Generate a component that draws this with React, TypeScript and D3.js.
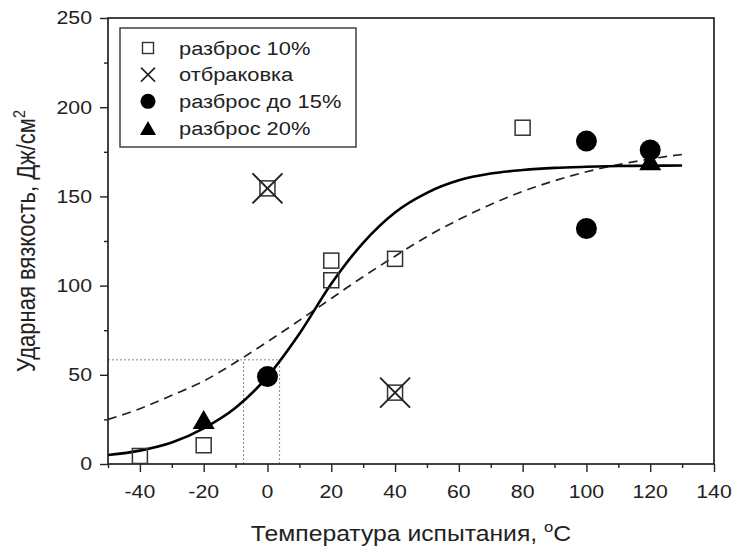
import React, { useEffect, useRef } from 'react';
import * as d3 from 'd3';

const W = 737;
const H = 551;
const FONT = '"Liberation Sans", Arial, sans-serif';
const SX = 1.15; // the lettering in the picture is a little wide

// measured points (temperature, impact strength)
const squareT = [-40, -20, 0, 20, 20, 40, 40, 80];
const squareV = [4.5, 10.5, 154.5, 103, 114, 115, 40, 188.5];
const rejectT = [0, 40];
const rejectV = [154.5, 40];
const circleT = [0, 100, 100, 120];
const circleV = [49, 181, 132, 176];
const triangleT = [-20, 120];
const triangleV = [25, 170];

// fit curves, every 10 °C
const curveT = [-50, -40, -30, -20, -10, 0, 10, 20, 30, 40, 50, 60, 70, 80, 90, 100, 110, 120, 130];
const solidV = [5, 7.5, 12, 20, 31.5, 49, 73, 101, 124, 141, 152, 159, 162.8, 164.8, 166, 166.6, 167, 167.2, 167.3];
const dashedV = [25, 31, 38.5, 46.5, 57, 68.5, 80.5, 92.8, 105, 116.5, 127.5, 137, 145.5, 152.8, 158.8, 163.8, 167.8, 171, 173.5];

// dotted guide lines
const guideV = 58.4;
const guideT = [-7.5, 3.8];

const xTicks = [-40, -20, 0, 20, 40, 60, 80, 100, 120, 140];
const xMinor = [-50, -30, -10, 10, 30, 50, 70, 90, 110, 130];
const yTicks = [0, 50, 100, 150, 200, 250];
const yMinor = [25, 75, 125, 175, 225];

const legendLabels = ['разброс 10%', 'отбраковка', 'разброс до 15%', 'разброс 20%'];

export default function App() {
  const ref = useRef<SVGSVGElement>(null);

  useEffect(() => {
    const svg = d3.select(ref.current);
    svg.selectAll('*').remove();

    const x = d3.scaleLinear().domain([-50, 140]).range([108, 714]);
    const y = d3.scaleLinear().domain([0, 250]).range([464, 18]);
    const ink = '#222';

    // dotted guides
    const g0 = svg.append('g').attr('stroke', '#888').attr('stroke-width', 1).attr('stroke-dasharray', '2,2');
    g0.append('line')
      .attr('x1', x(-50)).attr('x2', x(guideT[1]))
      .attr('y1', y(guideV)).attr('y2', y(guideV));
    g0.selectAll('line.v').data(guideT).enter().append('line')
      .attr('class', 'v')
      .attr('x1', (d) => x(d)).attr('x2', (d) => x(d))
      .attr('y1', y(0)).attr('y2', y(guideV));

    // fit curves
    const line = d3.line<number>()
      .x((d, i) => x(curveT[i]))
      .y((d) => y(d))
      .curve(d3.curveMonotoneX);
    svg.append('path').attr('d', line(dashedV))
      .attr('fill', 'none').attr('stroke', ink).attr('stroke-width', 1.7).attr('stroke-dasharray', '9,6');
    svg.append('path').attr('d', line(solidV))
      .attr('fill', 'none').attr('stroke', '#000').attr('stroke-width', 2.6);

    // axes
    const xAxis = svg.append('g').attr('transform', `translate(0,${y(0)})`);
    xAxis.call(d3.axisBottom(x).tickValues(xTicks).tickSize(8).tickFormat(() => ''));
    xAxis.append('g').call(d3.axisBottom(x).tickValues(xMinor).tickSize(4).tickFormat(() => ''));
    xAxis.selectAll('path').remove();
    const yAxis = svg.append('g').attr('transform', `translate(${x(-50)},0)`);
    yAxis.call(d3.axisLeft(y).tickValues(yTicks).tickSize(8).tickFormat(() => ''));
    yAxis.append('g').call(d3.axisLeft(y).tickValues(yMinor).tickSize(4).tickFormat(() => ''));
    yAxis.selectAll('path').remove();
    svg.selectAll('.tick line').attr('stroke', ink).attr('stroke-width', 1.4);

    // frame
    svg.append('rect')
      .attr('x', x(-50)).attr('y', y(250))
      .attr('width', x(140) - x(-50)).attr('height', y(0) - y(250))
      .attr('fill', 'none').attr('stroke', ink).attr('stroke-width', 1.7);

    // tick labels
    svg.append('g').selectAll('text').data(xTicks).enter().append('text')
      .attr('transform', (d) => `translate(${x(d)},498) scale(${SX},1)`)
      .attr('text-anchor', 'middle')
      .style('font-family', FONT).attr('font-size', 18.5).attr('fill', ink)
      .text((d) => d);
    svg.append('g').selectAll('text').data(yTicks).enter().append('text')
      .attr('transform', (d) => `translate(92,${y(d)}) scale(${SX},1)`)
      .attr('dy', '0.35em')
      .attr('text-anchor', 'end')
      .style('font-family', FONT).attr('font-size', 18.5).attr('fill', ink)
      .text((d) => d);

    // axis titles
    const xt = svg.append('text')
      .attr('transform', `translate(${(x(-50) + x(140)) / 2},541) scale(${SX},1)`)
      .attr('text-anchor', 'middle')
      .style('font-family', FONT).attr('font-size', 21.5).attr('fill', ink);
    xt.append('tspan').text('Температура испытания, ');
    xt.append('tspan').attr('font-size', 14.5).attr('dy', -9).text('o');
    xt.append('tspan').attr('dy', 9).text('C');

    const yt = svg.append('text')
      .attr('transform', `translate(35,${(y(0) + y(250)) / 2}) scale(${SX},1) rotate(-90)`)
      .attr('text-anchor', 'middle')
      .style('font-family', FONT).attr('font-size', 22).attr('fill', ink);
    yt.append('tspan').text('Ударная вязкость, Дж/см');
    yt.append('tspan').attr('font-size', 14.5).attr('dy', -9).text('2');

    // markers
    const sq = 15;
    svg.append('g').selectAll('rect').data(squareT).enter().append('rect')
      .attr('x', (d) => x(d) - sq / 2)
      .attr('y', (d, i) => y(squareV[i]) - sq / 2)
      .attr('width', sq).attr('height', sq)
      .attr('fill', 'none').attr('stroke', '#333').attr('stroke-width', 1.5);

    const xs = 15;
    const rej = svg.append('g').attr('stroke', ink).attr('stroke-width', 2);
    rejectT.forEach((t, i) => {
      const cx = x(t);
      const cy = y(rejectV[i]);
      rej.append('line').attr('x1', cx - xs).attr('y1', cy - xs).attr('x2', cx + xs).attr('y2', cy + xs);
      rej.append('line').attr('x1', cx - xs).attr('y1', cy + xs).attr('x2', cx + xs).attr('y2', cy - xs);
    });

    svg.append('g').selectAll('circle').data(circleT).enter().append('circle')
      .attr('cx', (d) => x(d))
      .attr('cy', (d, i) => y(circleV[i]))
      .attr('r', 10.5)
      .attr('fill', '#000');

    const tri = (cx: number, cy: number, b: number, h: number) =>
      `M${cx},${cy - h / 2}L${cx + b / 2},${cy + h / 2}L${cx - b / 2},${cy + h / 2}Z`;
    svg.append('g').selectAll('path').data(triangleT).enter().append('path')
      .attr('d', (d, i) => tri(x(d), y(triangleV[i]), 22, 19))
      .attr('fill', '#000');

    // legend
    const lg = svg.append('g');
    lg.append('rect')
      .attr('x', 120).attr('y', 28).attr('width', 236).attr('height', 119)
      .attr('fill', '#fff').attr('stroke', '#333').attr('stroke-width', 1.4);
    const rowY = d3.scalePoint<number>().domain(d3.range(legendLabels.length)).range([48, 128]);
    const sx = 148;
    lg.append('rect')
      .attr('x', sx - 5.5).attr('y', rowY(0)! - 5.5).attr('width', 11).attr('height', 11)
      .attr('fill', 'none').attr('stroke', '#333').attr('stroke-width', 1.4);
    lg.append('path')
      .attr('d', `M${sx - 7},${rowY(1)! - 7}L${sx + 7},${rowY(1)! + 7}M${sx - 7},${rowY(1)! + 7}L${sx + 7},${rowY(1)! - 7}`)
      .attr('stroke', ink).attr('stroke-width', 1.6);
    lg.append('circle').attr('cx', sx).attr('cy', rowY(2)!).attr('r', 7.5).attr('fill', '#000');
    lg.append('path').attr('d', tri(sx, rowY(3)!, 16, 14)).attr('fill', '#000');
    lg.selectAll('text').data(legendLabels).enter().append('text')
      .attr('transform', (d, i) => `translate(179,${rowY(i)}) scale(${SX},1)`)
      .attr('dy', '0.35em')
      .style('font-family', FONT).attr('font-size', 19).attr('fill', ink)
      .text((d) => d);
  }, []);

  return (
    <svg
      ref={ref}
      width={W}
      height={H}
      style={{ position: 'absolute', left: 0, top: 0, background: '#fff' }}
    />
  );
}
